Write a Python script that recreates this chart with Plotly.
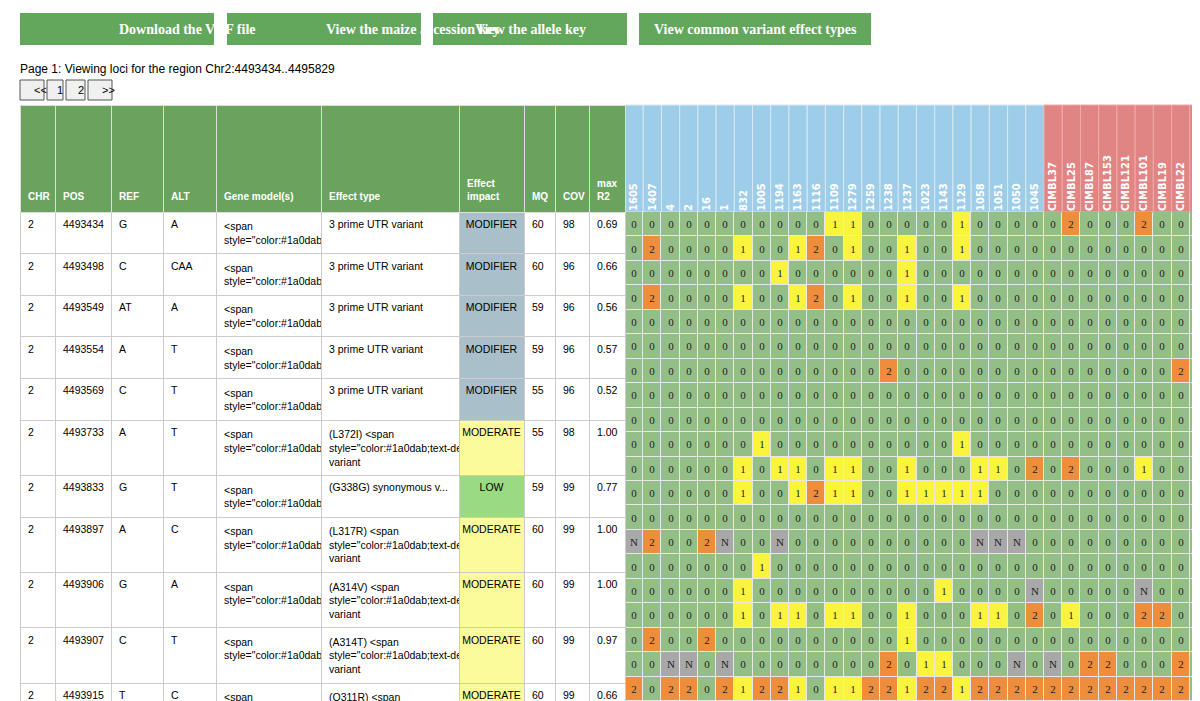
import plotly.graph_objects as go

# ---- data ----
chr_col = ["2"] * 20
pos = ["4493434", "4493498", "4493549", "4493554", "4493569", "4493733", "4493833",
       "4493897", "4493906", "4493907", "4493915", "4493953", "4494008", "4494040",
       "4494083", "4494115", "4494117", "4494133", "4494180", "4494374"]
ref = ["G", "C", "AT", "A", "C", "A", "G", "A", "G", "C", "T", "G", "A", "C", "C", "A", "C",
       "TTCAG...", "A", "A"]
alt = ["A", "CAA", "A", "T", "T", "T", "T", "C", "A", "T", "C", "A", "T", "CTAA", "CAT", "C",
       "CTAAT", "T", "C", "T"]
gene = ["Zm00001eb067740"] * 20
effect_prefix = ["", "", "", "", "", "(L372I) ", "(G338G) synonymous v...", "(L317R) ", "(A314V) ",
                 "(A314T) ", "(Q311R) ", "(G298G) synonymous v...", "", "", "", "", "", "", "",
                 "splice region variant&int..."]
effect_link = ["", "", "", "", "", "missense variant", "", "missense variant", "missense variant",
               "missense variant", "missense variant", "", "", "", "", "", "", "", "", ""]
effect_plain = ["3 prime UTR variant"] * 5 + [""] * 7 + ["intron variant"] * 7 + [""]
impact = ["MODIFIER"] * 5 + ["MODERATE", "LOW", "MODERATE", "MODERATE", "MODERATE", "MODERATE",
                            "LOW"] + ["MODIFIER"] * 7 + ["LOW"]
mq = [60, 60, 59, 59, 55, 55, 59, 60, 60, 60, 60, 60, 35, 38, 55, 33, 60, 53, 46, 60]
cov = [98, 96, 96, 96, 96, 98, 99, 99, 99, 99, 99, 98, 98, 84, 99, 88, 98, 94, 88, 99]
max_r2 = ["0.69", "0.66", "0.56", "0.57", "0.52", "1.00", "0.77", "1.00", "1.00", "0.97", "0.66",
          "0.77", "1.00", "0.92", "1.00", "0.79", "0.73", "0.63", "0.94", "0.62"]

accessions = ["1605", "1407", "4", "2", "16", "1", "832", "1005", "1194", "1163", "1116", "1109",
              "1279", "1259", "1238", "1237", "1023", "1143", "1129", "1058", "1051", "1050", "1045",
              "CIMBL37", "CIMBL25", "CIMBL87", "CIMBL153", "CIMBL121", "CIMBL101", "CIMBL19",
              "CIMBL22", "GEMS65"]
n_blue = 23

genotypes = [
    "0 0 0 0 0 0 0 0 0 0 0 1 1 0 0 0 0 0 1 0 0 0 0 0 2 0 0 0 2 0 0 0",
    "0 2 0 0 0 0 1 0 0 1 2 0 1 0 0 1 0 0 1 0 0 0 0 0 0 0 0 0 0 0 0 0",
    "0 0 0 0 0 0 0 0 1 0 0 0 0 0 0 1 0 0 0 0 0 0 0 0 0 0 0 0 0 0 0 0",
    "0 2 0 0 0 0 1 0 0 1 2 0 1 0 0 1 0 0 1 0 0 0 0 0 0 0 0 0 0 0 0 0",
    "0 0 0 0 0 0 0 0 0 0 0 0 0 0 0 0 0 0 0 0 0 0 0 0 0 0 0 0 0 0 0 0",
    "0 0 0 0 0 0 0 0 0 0 0 0 0 0 0 0 0 0 0 0 0 0 0 0 0 0 0 0 0 0 0 0",
    "0 0 0 0 0 0 0 0 0 0 0 0 0 0 2 0 0 0 0 0 0 0 0 0 0 0 0 0 0 0 2 0",
    "0 0 0 0 0 0 0 0 0 0 0 0 0 0 0 0 0 0 0 0 0 0 0 0 0 0 0 0 0 0 0 0",
    "0 0 0 0 0 0 0 0 0 0 0 0 0 0 0 0 0 0 0 0 0 0 0 0 0 0 0 0 0 0 0 0",
    "0 0 0 0 0 0 0 1 0 0 0 0 0 0 0 0 0 0 1 0 0 0 0 0 0 0 0 0 0 0 0 0",
    "0 0 0 0 0 0 1 0 1 1 0 1 1 0 0 1 0 0 0 1 1 0 2 0 2 0 0 0 1 0 0 0",
    "0 0 0 0 0 0 1 0 0 1 2 1 1 0 0 1 1 1 1 1 0 0 0 0 0 0 0 0 0 0 0 0",
    "0 0 0 0 0 0 0 0 0 0 0 0 0 0 0 0 0 0 0 0 0 0 0 0 0 0 0 0 0 0 0 0",
    "N 2 0 0 2 N 0 0 N 0 0 0 0 0 0 0 0 0 0 N N N 0 0 0 0 0 0 0 0 0 0",
    "0 0 0 0 0 0 0 1 0 0 0 0 0 0 0 0 0 0 0 0 0 0 0 0 0 0 0 0 0 0 0 0",
    "0 0 0 0 0 0 1 0 0 0 0 0 0 0 0 0 0 1 0 0 0 0 N 0 0 0 0 0 N 0 0 0",
    "0 0 0 0 0 0 1 0 1 1 0 1 1 0 0 1 0 0 0 1 1 0 2 0 1 0 0 0 2 2 0 0",
    "0 2 0 0 2 0 0 0 0 0 0 0 0 0 0 1 0 0 0 0 0 0 0 0 0 0 0 0 0 0 0 0",
    "0 0 N N 0 N 0 0 0 0 0 0 0 0 2 0 1 1 0 0 0 N 0 N 0 2 2 0 0 0 2 0",
    "2 0 2 2 0 2 1 2 2 1 0 1 1 2 2 1 2 2 1 2 2 2 2 2 2 2 2 2 2 2 2 0",
]

buttons = ["Download the VCF file", "View the maize accession key", "View the allele key",
           "View common variant effect types"]

# ---- styling ----
W, H = 1200, 701
OFF = 8  # page body margin
GREEN_HDR = "#6aa35e"
GRID_TOP = 212
GRID_LEFT = 625
HDR_TOP = 105


def px(x):
    return (x - OFF) / W


def py(y):
    return 1 - (y - OFF) / H


impact_fill = {"MODIFIER": "#a9bfca", "MODERATE": "#fbfb9b", "LOW": "#9ada83"}
link = '<span style="color:#1a0dab;text-decoration:underline">{}</span>'

effect = []
for p, l, t in zip(effect_prefix, effect_link, effect_plain):
    effect.append(t + p + (link.format(l) if l else ""))

pad = "&nbsp;<br>" * 6
headers = [pad + "<b>" + h + "</b>" for h in ["CHR", "POS", "REF", "ALT", "Gene model(s)",
                                               "Effect type"]]
headers += ["&nbsp;<br>" * 5 + "<b>Effect<br>impact</b>", pad + "<b>MQ</b>", pad + "<b>COV</b>",
            "&nbsp;<br>" * 5 + "<b>max<br>R2</b>"]
col_w = [35, 56, 52, 53, 105, 138, 65, 31, 34, 36]

white = ["white"] * 20
fig = go.Figure()
fig.add_trace(go.Table(
    domain=dict(x=[px(20), px(GRID_LEFT)], y=[0, py(HDR_TOP)]),
    columnwidth=col_w,
    header=dict(values=headers, fill_color=GREEN_HDR, height=GRID_TOP - HDR_TOP,
                line_color="#dddddd", align="left",
                font=dict(family="Arial", size=10, color="white")),
    cells=dict(values=[chr_col, pos, ref, alt, [link.format(g) for g in gene], effect, impact,
                       mq, cov, max_r2],
               fill_color=[white] * 6 + [[impact_fill[i] for i in impact]] + [white] * 3,
               line_color="#cccccc", height=24.5, align=["left"] * 6 + ["center"] + ["left"] * 3,
               font=dict(family="Arial", size=10.5, color="black")),
))

code = {"0": 0, "1": 1, "2": 2, "N": 3}
z, txt = [], []
for row in genotypes:
    vals = row.split()
    z.append([code[v] for v in vals])
    txt.append(vals)

fig.add_trace(go.Heatmap(
    z=z, x=accessions, y=list(range(len(genotypes))), text=txt, texttemplate="%{text}",
    textfont=dict(family="Verdana", size=11, color="#222"),
    colorscale=[[0, "#93bf87"], [0.25, "#93bf87"], [0.25, "#fbf43f"], [0.5, "#fbf43f"],
                [0.5, "#ee8d3b"], [0.75, "#ee8d3b"], [0.75, "#a8a8a8"], [1, "#a8a8a8"]],
    zmin=-0.5, zmax=3.5, showscale=False, xgap=1, ygap=1, hoverinfo="skip",
    xaxis="x", yaxis="y",
))

# header backgrounds
for i, a in enumerate(accessions):
    fig.add_shape(type="rect", xref="x", yref="paper", x0=i - 0.5, x1=i + 0.5,
                  y0=py(GRID_TOP), y1=py(HDR_TOP),
                  fillcolor="#9ecde9" if i < n_blue else "#e08583",
                  line=dict(color="#d8e8f0" if i < n_blue else "#eaa", width=1), layer="below")

fig.update_layout(
    width=W, height=H, margin=dict(l=0, r=0, t=0, b=0), paper_bgcolor="white",
    plot_bgcolor="#e8e8e8",
    xaxis=dict(domain=[px(GRID_LEFT), 1], side="top", tickangle=-90, showgrid=False,
               zeroline=False, ticks="", range=[-0.5, len(accessions) - 0.5],
               tickvals=accessions, ticktext=["<b>" + a + "</b>" for a in accessions],
               tickfont=dict(family="DejaVu Sans", size=10, color="white")),
    yaxis=dict(domain=[py(701), py(GRID_TOP)], autorange="reversed", showticklabels=False,
               showgrid=False, zeroline=False),
)

# buttons
btn_x = [(20, 214), (227, 421), (433, 627), (639, 871)]
for (x0, x1), b in zip(btn_x, buttons):
    fig.add_shape(type="rect", xref="paper", yref="paper", x0=px(x0), x1=px(x1),
                  y0=py(45), y1=py(13), fillcolor="#62a75b", line=dict(width=0))
    fig.add_annotation(xref="paper", yref="paper", x=px((x0 + x1) / 2), y=py(29),
                       yanchor="middle", text="<b>" + b + "</b>", showarrow=False,
                       font=dict(family="Liberation Serif", size=14, color="white"))

fig.add_annotation(xref="paper", yref="paper", x=px(20), y=py(69), xanchor="left",
                   yanchor="middle", xshift=-2,
                   text="Page 1: Viewing loci for the region Chr2:4493434..4495829",
                   showarrow=False, font=dict(family="Arial", size=12, color="black"))
pages = ["<<", "1", "2", ">>"]
pg_pos = [(20, 44), (47, 63), (66, 85), (88, 112)]
for (x0, x1), p in zip(pg_pos, pages):
    fig.add_shape(type="rect", xref="paper", yref="paper", x0=px(x0), x1=px(x1),
                  y0=py(100), y1=py(80), fillcolor="#f0f0f0",
                  line=dict(color="#555", width=1))
    fig.add_annotation(xref="paper", yref="paper", x=px((x0 + x1) / 2), y=py(90),
                       yanchor="middle", text=p, showarrow=False,
                       font=dict(family="Arial", size=11, color="black"))

fig.write_html("out.html")
